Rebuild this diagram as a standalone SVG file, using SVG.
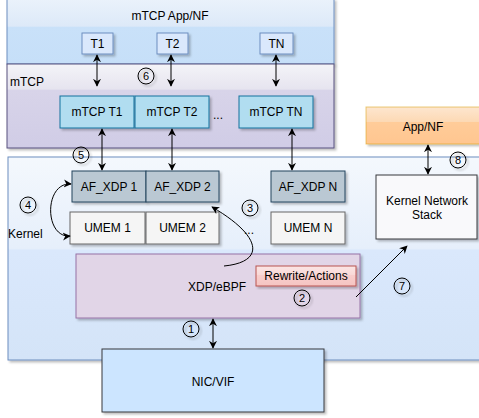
<svg xmlns="http://www.w3.org/2000/svg" width="479" height="418" viewBox="0 0 479 418">
<defs>
<filter id="sh" x="-10%" y="-10%" width="130%" height="130%">
<feDropShadow dx="2" dy="2" stdDeviation="0.8" flood-color="#000" flood-opacity="0.25"/>
</filter>
<linearGradient id="gTop" x1="0" y1="0" x2="0" y2="1">
<stop offset="0" stop-color="#eaf2fb"/><stop offset="0.42" stop-color="#dde9f8"/><stop offset="0.43" stop-color="#c9e1f9"/><stop offset="1" stop-color="#c6dff8"/>
</linearGradient>
<linearGradient id="gMtcp" x1="0" y1="0" x2="0" y2="1">
<stop offset="0" stop-color="#f4f4f8"/><stop offset="0.3" stop-color="#e6e4ef"/><stop offset="0.31" stop-color="#d8d4e9"/><stop offset="1" stop-color="#d0cce6"/>
</linearGradient>
<linearGradient id="gKern" x1="0" y1="0" x2="0" y2="1">
<stop offset="0" stop-color="#f4f8fd"/><stop offset="0.45" stop-color="#e6effb"/><stop offset="0.46" stop-color="#dae8fc"/><stop offset="1" stop-color="#d4e4f8"/>
</linearGradient>
<linearGradient id="gApp" x1="0" y1="0" x2="0" y2="1">
<stop offset="0" stop-color="#fde6cf"/><stop offset="0.4" stop-color="#fcd9b4"/><stop offset="0.41" stop-color="#ffcc99"/><stop offset="1" stop-color="#ffc690"/>
</linearGradient>
<linearGradient id="gRw" x1="0" y1="0" x2="0" y2="1">
<stop offset="0" stop-color="#fbe6e5"/><stop offset="0.45" stop-color="#f9d8d6"/><stop offset="0.46" stop-color="#f8cecc"/><stop offset="1" stop-color="#f5c4c2"/>
</linearGradient>
<marker id="ah" viewBox="0 0 10 10" refX="9" refY="5" markerWidth="8" markerHeight="8" markerUnits="userSpaceOnUse" orient="auto-start-reverse">
<path d="M0,0 L10,5 L0,10 L3,5 Z" fill="#000"/>
</marker>
<style>
text{font-family:"Liberation Sans",Arial,sans-serif;font-size:12px;fill:#000;text-anchor:middle;dominant-baseline:central}
.sm{font-size:11px}
.sh{filter:url(#sh)}
.t{fill:#dae8fc;stroke:#6c8ebf;stroke-width:1}
.mt{fill:#b1ddf0;stroke:#10739e;stroke-width:1}
.af{fill:#bac8d3;stroke:#23445d;stroke-width:1}
.um{fill:#f5f5f5;stroke:#666;stroke-width:1}
.c{fill:#fff;fill-opacity:0;stroke:#000;stroke-width:1}
.ln{fill:none;stroke:#000;stroke-width:1}
.da{marker-start:url(#ah);marker-end:url(#ah)}
.ea{marker-end:url(#ah)}
</style>
</defs>

<g id="mtcp-app">
<rect class="sh" x="7" y="-1" width="327" height="65" fill="url(#gTop)" stroke="#6c8ebf"/>
<text x="170" y="16">mTCP App/NF</text>
</g>
<g id="mtcp">
<rect class="sh" x="7" y="64" width="327" height="84" fill="url(#gMtcp)" stroke="#56517e"/>
<text x="10" y="82" style="text-anchor:start">mTCP</text>
</g>
<g id="kernel">
<rect class="sh" x="8" y="157" width="480" height="203" fill="url(#gKern)" stroke="#6c8ebf"/>
<text x="8" y="234" style="text-anchor:start">Kernel</text>
</g>

<g id="t1"><rect class="t sh" x="82" y="33" width="31" height="21"/><text x="97.5" y="44">T1</text></g>
<g id="t2"><rect class="t sh" x="157" y="33" width="31" height="21"/><text x="172.5" y="44">T2</text></g>
<g id="tn"><rect class="t sh" x="260" y="33" width="33" height="21"/><text x="276.5" y="44">TN</text></g>

<g id="mtcp-t1"><rect class="mt sh" x="60" y="96" width="74" height="32"/><text x="97" y="112">mTCP T1</text></g>
<g id="mtcp-t2"><rect class="mt sh" x="135" y="96" width="74" height="32"/><text x="172" y="112">mTCP T2</text></g>
<text x="218" y="115">...</text>
<g id="mtcp-tn"><rect class="mt sh" x="239" y="96" width="74" height="32"/><text x="276" y="112">mTCP TN</text></g>

<g id="afxdp1"><rect class="af sh" x="72" y="171" width="74" height="31"/><text x="109" y="186.5">AF_XDP 1</text></g>
<g id="afxdp2"><rect class="af sh" x="146" y="171" width="73" height="31"/><text x="182.5" y="186.5">AF_XDP 2</text></g>
<g id="afxdpn"><rect class="af sh" x="271" y="171" width="74" height="31"/><text x="308" y="186.5">AF_XDP N</text></g>

<g id="umem1"><rect class="um sh" x="70" y="212" width="75" height="32"/><text x="107.5" y="228">UMEM 1</text></g>
<g id="umem2"><rect class="um sh" x="146" y="212" width="73" height="32"/><text x="182.5" y="228">UMEM 2</text></g>
<text x="249" y="230">...</text>
<g id="umemn"><rect class="um sh" x="271" y="212" width="74" height="32"/><text x="308" y="228">UMEM N</text></g>

<g id="xdp">
<rect class="sh" x="76" y="254" width="284" height="64" fill="#e1d5e7" stroke="#9673a6"/>
<text x="217" y="287">XDP/eBPF</text>
</g>
<g id="rewrite">
<rect class="sh" x="256" y="266" width="100" height="20" fill="url(#gRw)" stroke="#b85450"/>
<text x="306" y="276">Rewrite/Actions</text>
</g>

<g id="app-nf">
<rect class="sh" x="366" y="107" width="120" height="37" fill="url(#gApp)" stroke="#d79b00" stroke-opacity="0.5"/>
<text x="423" y="127">App/NF</text>
</g>
<g id="kns">
<rect class="sh" x="376" y="175" width="101" height="64" fill="#f9f9fb" stroke="#36393d"/>
<text x="427" y="201">Kernel Network</text>
<text x="427" y="215">Stack</text>
</g>

<g id="nic">
<rect class="sh" x="102" y="349" width="222" height="63" fill="#cce5ff" stroke="#36393d"/>
<text x="213" y="382">NIC/VIF</text>
</g>

<g id="connectors">
<line class="ln da" x1="97" y1="55" x2="97" y2="86"/>
<line class="ln da" x1="171" y1="55" x2="171" y2="86"/>
<line class="ln da" x1="276" y1="55" x2="276" y2="86"/>
<line class="ln da" x1="102" y1="129" x2="102" y2="170"/>
<line class="ln da" x1="172" y1="129" x2="172" y2="170"/>
<line class="ln da" x1="292" y1="129" x2="292" y2="170"/>
<path class="ln da" d="M71,184 C44,182 44,238 70,236"/>
<path class="ln ea" d="M224,266 C266,262 262,236 212,207"/>
<line class="ln ea" x1="356" y1="297" x2="407" y2="246"/>
<line class="ln da" x1="213" y1="319" x2="213" y2="348"/>
<line class="ln da" x1="428" y1="145" x2="428" y2="174"/>
</g>

<g id="badges">
<g class="sh"><circle class="c" cx="146" cy="76" r="8"/></g><text class="sm" x="146" y="76">6</text>
<g class="sh"><circle class="c" cx="81" cy="155" r="8"/></g><text class="sm" x="81" y="155">5</text>
<g class="sh"><circle class="c" cx="28" cy="205" r="8"/></g><text class="sm" x="28" y="205">4</text>
<g class="sh"><circle class="c" cx="250" cy="208" r="8"/></g><text class="sm" x="250" y="208">3</text>
<g class="sh"><circle class="c" cx="302" cy="298" r="8"/></g><text class="sm" x="302" y="298">2</text>
<g class="sh"><circle class="c" cx="191" cy="329" r="8"/></g><text class="sm" x="191" y="329">1</text>
<g class="sh"><circle class="c" cx="402" cy="286" r="8"/></g><text class="sm" x="402" y="286">7</text>
<g class="sh"><circle class="c" cx="458" cy="160" r="8"/></g><text class="sm" x="458" y="160">8</text>
</g>
</svg>
